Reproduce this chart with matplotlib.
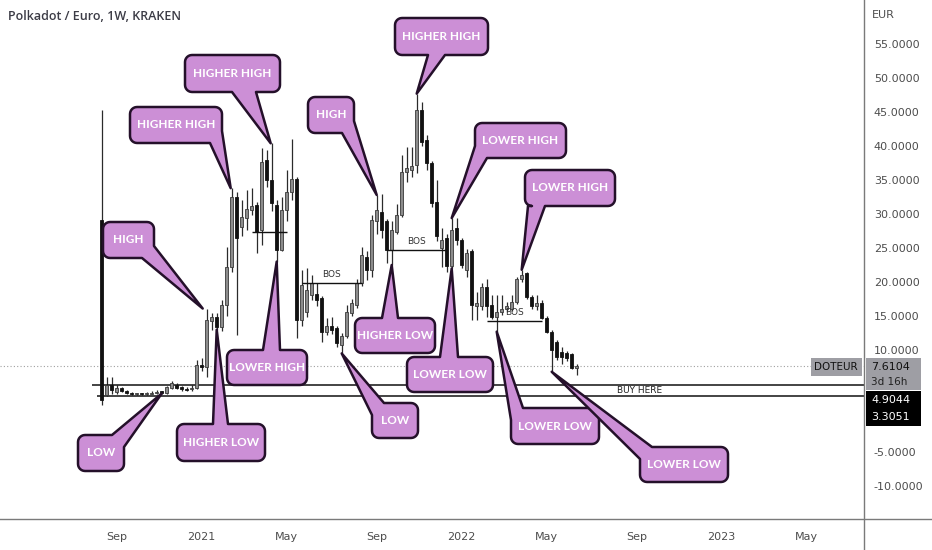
import numpy as np
import pandas as pd
import matplotlib
matplotlib.use("Agg")
import matplotlib.pyplot as plt
import matplotlib.dates as mdates
from matplotlib.patches import Polygon, Rectangle
from matplotlib.lines import Line2D

# weekly DOT/EUR candles (Kraken), first bar week of 2020-08-17
first_week = "2020-08-17"
opens = [29.1, 3.4, 4.9, 3.8, 4.4, 3.9, 3.7, 3.5, 3.55, 3.5, 3.6, 3.7, 3.8, 3.75, 4.4, 4.9,
         4.5, 4.2, 4.2, 4.4, 7.8, 7.55, 14.2, 14.9, 13.4, 16.6, 22.25, 32.5, 28.1, 29.4, 30.6, 31.3,
         27.6, 37.9, 35.0, 31.3, 24.7, 30.6, 33.3, 35.2, 14.4, 15.6, 18.1, 18.3, 17.6, 12.7, 13.5, 13.2,
         10.7, 12.0, 15.4, 16.6, 19.8, 23.7, 21.8, 28.9, 30.3, 28.9, 24.7, 27.4, 29.9, 36.2, 36.5, 37.2,
         45.3, 40.9, 37.5, 31.8, 25.0, 26.4, 22.3, 27.9, 26.2, 21.8, 24.5, 16.4, 16.4, 19.3, 16.6, 14.9,
         15.6, 16.1, 16.1, 17.1, 20.5, 21.3, 17.8, 16.5, 16.9, 14.7, 12.7, 11.2, 9.75, 9.5, 9.4, 7.3]
highs = [45.3, 6.1, 6.1, 4.9, 4.6, 4.05, 3.8, 3.7, 3.7, 3.8, 3.9, 4.1, 4.0, 4.7, 5.5, 5.2,
         4.7, 4.6, 4.8, 8.5, 8.8, 16.1, 15.4, 15.4, 17.35, 25.2, 33.8, 33.3, 32.1, 33.5, 33.8, 31.8,
         39.7, 39.4, 40.4, 32.0, 32.5, 36.5, 41.1, 35.4, 21.8, 22.1, 21.0, 19.8, 18.0, 14.7, 14.9, 13.5,
         12.5, 16.6, 17.5, 20.5, 25.2, 24.5, 29.8, 32.8, 33.0, 29.2, 28.9, 31.5, 38.7, 39.9, 39.9, 47.7,
         46.5, 41.6, 37.8, 35.0, 28.0, 27.0, 29.4, 29.4, 26.5, 24.9, 24.8, 18.6, 19.8, 20.5, 18.1, 18.1,
         18.1, 17.1, 18.1, 20.8, 21.8, 21.5, 18.1, 18.1, 17.4, 15.0, 13.0, 11.5, 10.5, 9.8, 9.6, 8.0]
lows = [1.9, 3.3, 3.6, 3.5, 3.8, 3.6, 3.4, 3.35, 3.4, 3.4, 3.5, 3.6, 3.6, 3.6, 4.2, 4.2,
        4.0, 3.9, 4.0, 4.3, 6.9, 6.1, 13.0, 13.0, 12.8, 15.0, 21.5, 12.2, 26.7, 27.6, 29.8, 24.2,
        25.4, 34.0, 30.5, 23.0, 24.5, 29.0, 32.0, 11.7, 13.6, 14.8, 17.4, 16.4, 11.2, 12.2, 12.4, 10.5,
        9.5, 11.7, 15.0, 16.2, 19.4, 20.3, 20.8, 27.0, 26.5, 22.8, 22.5, 27.0, 29.5, 34.7, 35.5, 36.0,
        40.0, 36.5, 31.0, 26.0, 22.2, 21.5, 22.0, 25.5, 22.0, 20.8, 14.4, 14.4, 15.9, 14.9, 14.5, 12.7,
        15.2, 15.6, 15.8, 16.8, 20.0, 17.5, 16.0, 15.9, 14.5, 12.5, 6.8, 8.6, 8.0, 8.4, 7.2, 6.3]
closes = [2.6, 4.85, 4.1, 4.4, 4.0, 3.75, 3.55, 3.55, 3.5, 3.6, 3.7, 3.8, 3.75, 4.6, 5.2, 4.4,
          4.2, 4.1, 4.45, 7.8, 7.55, 14.4, 14.9, 13.4, 16.6, 22.25, 32.5, 26.4, 29.6, 30.8, 31.2, 27.4,
          37.7, 35.0, 31.6, 24.7, 30.6, 33.3, 35.2, 14.4, 19.6, 18.8, 19.8, 17.4, 12.7, 13.5, 12.9, 11.0,
          12.0, 15.6, 16.9, 19.8, 24.0, 21.8, 29.1, 30.6, 27.6, 24.7, 27.6, 29.9, 36.2, 36.7, 37.0, 45.3,
          40.6, 37.5, 31.6, 26.7, 26.2, 22.3, 27.6, 26.2, 22.5, 24.2, 16.6, 16.9, 19.3, 16.4, 14.9, 15.6,
          16.1, 16.4, 17.1, 20.5, 21.0, 17.8, 16.4, 16.9, 14.7, 12.7, 10.0, 9.0, 9.0, 8.8, 7.3, 7.61]

last_price = 7.6104
buy_levels = [4.9044, 3.3051]
y_ticks = [55, 50, 45, 40, 35, 30, 25, 20, 15, 10, -5, -10]
month_ticks = ["2020-09", "2021-01", "2021-05", "2021-09", "2022-01",
               "2022-05", "2022-09", "2023-01", "2023-05"]

# break of structure lines: (from candle, to candle, level, label)
bos_from = [30, 40, 57, 77]
bos_to = [37, 52, 69, 88]
bos_level = [27.4, 19.9, 24.7, 14.3]
bos_text = ["", "BOS", "BOS", "BOS"]

# swing callouts: label, candle index, high/low
swing_labels = ["HIGH", "HIGHER HIGH", "HIGHER HIGH", "LOWER HIGH", "HIGHER LOW", "LOW",
                "HIGH", "HIGHER HIGH", "HIGHER LOW", "LOW", "LOWER HIGH", "LOWER LOW",
                "LOWER HIGH", "LOWER LOW", "LOWER LOW"]
swing_idx = [21, 26, 34, 35, 23, 12, 55, 63, 58, 48, 70, 70, 84, 79, 90]
swing_side = ["H", "H", "H", "L", "L", "L", "H", "H", "L", "L", "H", "L", "H", "L", "L"]

# ---- layout (pixels of the 932x550 picture) ----
W, H = 932, 550
AX_R, AX_B = 864, 519
boxes = [(103, 222, 154, 258), (130, 107, 222, 143), (185, 55, 280, 92), (227, 350, 307, 385),
         (177, 424, 265, 461), (78, 435, 124, 471), (308, 97, 354, 133), (395, 18, 488, 55),
         (355, 318, 435, 353), (372, 403, 418, 438), (475, 123, 566, 158), (407, 357, 493, 392),
         (525, 170, 615, 206), (511, 408, 599, 444), (640, 447, 728, 482)]
tails = [("br",), ("br",), ("bottom", 232, 256), ("top", 263, 280), ("top", 213, 228), ("tr",),
         ("br",), ("bottom", 428, 445), ("top", 382, 398), ("tl",), ("bl",), ("top", 440, 458),
         ("bottom", 528, 545), ("tl",), ("tl",)]
tip_dx = [-0.8, -0.2, -0.2, 0, 0, 0, 0, 0, 0, 0, 0, 0, 0, 0, 0]

dates = pd.date_range(first_week, periods=len(opens), freq="7D")
x = mdates.date2num(dates)
o, hi, lo, c = map(np.array, (opens, highs, lows, closes))

fig = plt.figure(figsize=(W / 100, H / 100), dpi=100)
ax = fig.add_axes([0, (H - AX_B) / H, AX_R / W, AX_B / H])
xlim = (x[0] - 20.34 * 7, x[0] + 152.46 * 7)
ylim = (-14.85, 61.47)
ax.set_xlim(xlim)
ax.set_ylim(ylim)


def px2data(px, py):
    return (xlim[0] + px / AX_R * (xlim[1] - xlim[0]),
            ylim[1] - py / AX_B * (ylim[1] - ylim[0]))


def data2px(dx, dy):
    return ((dx - xlim[0]) / (xlim[1] - xlim[0]) * AX_R,
            (ylim[1] - dy) / (ylim[1] - ylim[0]) * AX_B)


# candles
up = c >= o
ax.vlines(x, lo, hi, color="#2b2b2b", lw=0.9, zorder=2)
body_h = np.maximum(np.abs(c - o), 0.15)
ax.bar(x[up], body_h[up], bottom=np.minimum(o, c)[up], width=4.2,
       color="#8c8c8c", edgecolor="#3a3a3a", lw=0.6, zorder=3)
ax.bar(x[~up], body_h[~up], bottom=np.minimum(o, c)[~up], width=4.2,
       color="#111111", edgecolor="#111111", lw=0.6, zorder=3)

# last price dotted line
ax.axhline(last_price, color="#a0a0a0", lw=0.8, ls=(0, (1, 2)), zorder=1)

# buy zone lines
ax.hlines(buy_levels[0], x[0] - 1.9 * 7, xlim[1], color="#111111", lw=1.1, zorder=2)
ax.hlines(buy_levels[1], x[0] - 0.9 * 7, xlim[1], color="#111111", lw=1.1, zorder=2)
bx, _ = px2data(640, 0)
ax.text(bx, np.mean(buy_levels), "BUY HERE", fontsize=6.5, color="#222222",
        ha="center", va="center", zorder=4)

# BOS lines
for i in range(len(bos_from)):
    ax.hlines(bos_level[i], x[bos_from[i]], x[bos_to[i]], color="#111111", lw=1.0, zorder=4)
    if bos_text[i]:
        ax.text((x[bos_from[i]] + x[bos_to[i]]) / 2, bos_level[i] + 0.6, bos_text[i],
                fontsize=6.5, color="#333333", ha="center", va="bottom", zorder=4)


def bubble(box, tail, tip, text):
    x0, y0, x1, y1 = box
    r, k = 7, 12
    kind = tail[0]
    pts = []

    def arc(cx, cy, a0, a1):
        for t in np.radians(np.linspace(a0, a1, 7)):
            pts.append((cx + r * np.cos(t), cy + r * np.sin(t)))

    pts.append((x0 + (k if kind == "tl" else r), y0))
    if kind == "top":
        pts.extend([(tail[1], y0), tip, (tail[2], y0)])
    if kind == "tr":
        pts.extend([(x1 - k, y0), tip, (x1, y0 + k)])
    else:
        pts.append((x1 - r, y0))
        arc(x1 - r, y0 + r, -90, 0)
    if kind == "br":
        pts.extend([(x1, y1 - k), tip, (x1 - k, y1)])
    else:
        pts.append((x1, y1 - r))
        arc(x1 - r, y1 - r, 0, 90)
    if kind == "bottom":
        pts.extend([(tail[2], y1), tip, (tail[1], y1)])
    if kind == "bl":
        pts.extend([(x0 + k, y1), tip, (x0, y1 - k)])
    else:
        pts.append((x0 + r, y1))
        arc(x0 + r, y1 - r, 90, 180)
    if kind == "tl":
        pts.extend([(x0, y0 + k), tip, (x0 + k, y0)])
    else:
        pts.append((x0, y0 + r))
        arc(x0 + r, y0 + r, 180, 270)
    verts = [px2data(px, py) for px, py in pts]
    ax.add_patch(Polygon(verts, closed=True, facecolor="#cc8fd6", edgecolor="#24102a",
                         lw=1.8, joinstyle="round", zorder=5, clip_on=False))
    tx, ty = px2data((x0 + x1) / 2, (y0 + y1) / 2)
    ax.text(tx, ty, text, ha="center", va="center", color="white", fontsize=8.5,
            fontweight="bold", family=["Lato", "DejaVu Sans"], zorder=6)


for i, lab in enumerate(swing_labels):
    j = swing_idx[i]
    ty = hi[j] if swing_side[i] == "H" else lo[j]
    tip = data2px(x[j] + tip_dx[i] * 7, ty)
    bubble(boxes[i], tails[i], tip, lab)

# axes styling
for s in ["top", "left", "right", "bottom"]:
    ax.spines[s].set_visible(False)
fig.add_artist(Line2D([AX_R / W, AX_R / W], [0, 1], transform=fig.transFigure,
                      color="#7a7a7a", lw=1.0))
fig.add_artist(Line2D([0, 1], [1 - AX_B / H, 1 - AX_B / H], transform=fig.transFigure,
                      color="#7a7a7a", lw=1.0))
ax.yaxis.tick_right()
ax.set_yticks(y_ticks)
ax.set_yticklabels([f"{v:.4f}" for v in y_ticks])
ax.tick_params(axis="y", length=0, pad=7, labelsize=8, labelcolor="#4d4d4d")

tick_pos, tick_lab = [], []
for m in month_ticks:
    ms = pd.Timestamp(m + "-01")
    k = int(np.ceil((ms - dates[0]).days / 7))
    tick_pos.append(x[0] + 7 * k)
    tick_lab.append(str(ms.year) if ms.month == 1 else ms.strftime("%b"))
ax.set_xticks(tick_pos)
ax.set_xticklabels(tick_lab)
ax.tick_params(axis="x", length=0, pad=9, labelsize=8, labelcolor="#4d4d4d")

# header and price tags
fig.text(8 / W, 1 - 17 / H, "Polkadot / Euro, 1W, KRAKEN", fontsize=9, color="#3c3c46",
         fontweight="semibold", family=["Open Sans", "DejaVu Sans"], va="center")
fig.text(872 / W, 1 - 15 / H, "EUR", fontsize=8, color="#4d4d4d", va="center")


def tag(px0, py0, px1, py1, color):
    fig.add_artist(Rectangle((px0 / W, 1 - py1 / H), (px1 - px0) / W, (py1 - py0) / H,
                             transform=fig.transFigure, facecolor=color, edgecolor="none"))


tag(811, 358, 862, 376, "#9e9ea4")
fig.text(836 / W, 1 - 367 / H, "DOTEUR", fontsize=7.5, color="#111111", ha="center", va="center")
tag(866, 358, 921, 390, "#9e9ea4")
fig.text(871 / W, 1 - 367 / H, f"{last_price:.4f}", fontsize=8, color="#111111", va="center")
fig.text(871 / W, 1 - 382 / H, "3d 16h", fontsize=7.5, color="#222222", va="center")
tag(866, 391, 921, 426, "#000000")
fig.text(871 / W, 1 - 400 / H, f"{buy_levels[0]:.4f}", fontsize=8, color="white", va="center")
fig.text(871 / W, 1 - 417 / H, f"{buy_levels[1]:.4f}", fontsize=8, color="white", va="center")

fig.savefig("out.png", dpi=100)
